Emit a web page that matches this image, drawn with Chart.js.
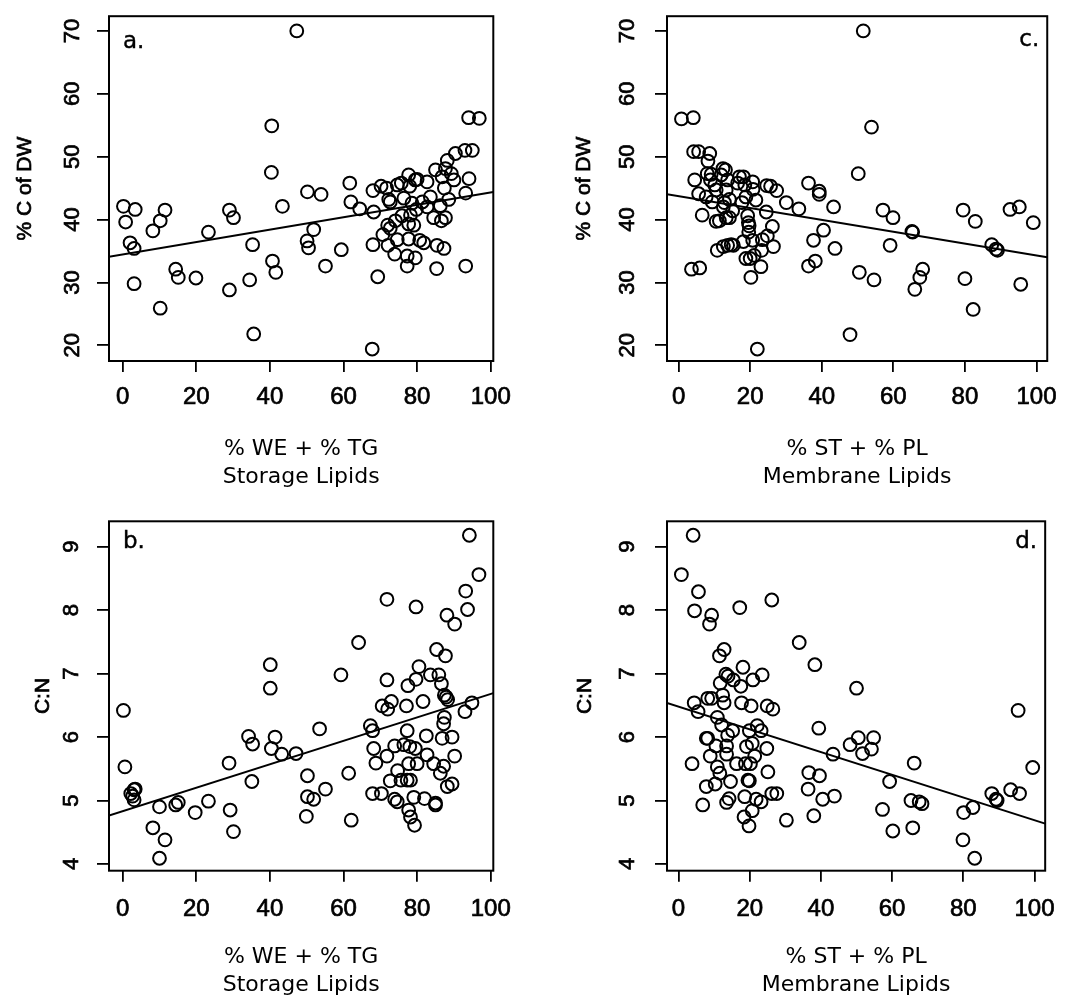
<!DOCTYPE html>
<html>
<head>
<meta charset="utf-8">
<script src="https://cdn.jsdelivr.net/npm/chart.js@4.4.1/dist/chart.umd.min.js"></script>
<style>
  html, body { margin: 0; padding: 0; background: #fff; }
  #page { position: relative; width: 1068px; height: 1000px; }
  .panel { position: absolute; width: 534px; height: 500px; }
</style>
</head>
<body>
<div id="page">
  <div class="panel" style="left:0;top:0"><canvas id="chartA" width="534" height="500"></canvas></div>
  <div class="panel" style="left:534px;top:0"><canvas id="chartC" width="534" height="500"></canvas></div>
  <div class="panel" style="left:0;top:500px"><canvas id="chartB" width="534" height="500"></canvas></div>
  <div class="panel" style="left:534px;top:500px"><canvas id="chartD" width="534" height="500"></canvas></div>
</div>
<script>
// tick labels
const xTicks = [0, 20, 40, 60, 80, 100];
const carbonTicks = [20, 30, 40, 50, 60, 70];
const cnTicks = [4, 5, 6, 7, 8, 9];

// a. storage lipids vs % C of DW
const storageA = [0.2,0.8,2.0,3.1,3.4,3.1,8.2,10.2,11.5,10.2,
  14.4,15.1,19.9,23.3,29.0,30.1,29.0,34.5,35.3,35.6,
  40.5,40.4,40.7,41.6,43.4,47.3,50.2,50.1,50.5,51.9,
  53.9,55.1,59.4,61.7,62.0,64.4,67.8,68.0,68.2,68.0,
  69.3,70.2,70.7,71.7,72.3,72.7,72.0,72.7,72.1,73.9,
  74.6,74.1,74.6,75.7,76.4,75.9,77.3,77.3,77.7,78.0,
  77.7,78.2,77.7,78.6,79.5,80.0,79.5,79.8,79.1,80.7,
  81.8,81.4,82.7,82.7,83.6,84.5,85.0,85.3,85.4,86.3,
  86.6,86.8,87.3,87.7,87.4,87.7,88.2,88.6,89.3,90.0,
  90.4,93.2,93.2,93.0,95.0,94.1,94.0,96.9];
const carbonA = [42.1,39.6,36.3,35.4,41.6,29.8,38.2,39.8,41.5,25.9,
  32.1,30.8,30.7,38.0,41.5,40.3,28.8,30.4,36.0,21.8,
  54.9,47.5,33.4,31.6,42.1,70.0,44.4,36.6,35.5,38.4,
  44.0,32.6,35.2,45.8,42.8,41.7,19.4,44.6,41.2,36.0,
  30.9,45.3,37.6,45.0,43.2,42.8,39.1,38.6,35.9,34.5,
  36.8,39.8,45.5,45.8,43.4,40.6,34.2,32.6,47.1,45.3,
  36.9,40.7,39.3,42.6,46.3,46.4,33.9,41.6,39.1,36.7,
  36.3,42.8,42.0,46.0,43.6,40.3,47.9,32.2,35.9,42.2,
  39.8,46.8,35.4,48.1,45.0,40.3,49.4,43.2,47.3,46.3,
  50.5,44.2,32.6,51.0,51.0,46.5,56.2,56.1];

// b. storage lipids vs C:N
const storageB = [0.2,0.6,2.2,3.1,2.7,3.1,3.4,8.2,10.0,10.0,
  11.5,14.4,15.1,19.7,23.3,28.9,29.2,30.1,34.2,35.3,
  35.1,40.1,40.1,41.4,40.4,43.2,47.1,50.2,50.2,51.9,
  49.9,53.5,55.1,59.3,61.4,62.1,64.1,67.3,67.9,68.2,
  68.8,67.9,70.3,70.5,72.0,73.0,71.8,71.8,71.8,72.7,
  73.9,74.7,73.9,74.6,75.6,76.4,77.1,77.5,77.3,77.3,
  78.0,77.7,78.2,77.7,78.2,79.3,79.5,80.0,79.1,79.7,
  79.7,80.5,81.6,82.0,82.5,82.7,83.6,84.5,85.0,85.0,
  85.3,85.9,86.6,86.3,86.8,87.2,87.4,87.9,88.3,87.4,
  87.2,87.7,88.2,88.1,89.5,89.5,90.2,90.2,93.2,93.7,
  94.2,93.0,94.9,96.8];
const cnB = [6.42,5.53,5.11,5.17,5.07,5.01,5.18,4.57,4.90,4.09,
  4.38,4.93,4.97,4.81,4.99,5.59,4.85,4.51,6.01,5.89,
  5.30,7.14,6.77,6.00,5.82,5.73,5.74,5.39,5.06,5.02,
  4.75,6.13,5.18,6.98,5.43,4.69,7.49,6.18,6.10,5.82,
  5.59,5.11,5.11,6.49,6.44,6.56,8.17,6.90,5.70,5.31,
  5.86,5.47,5.02,4.98,5.32,5.88,6.49,6.81,6.10,5.32,
  5.85,5.58,5.32,4.85,4.74,4.61,5.82,5.58,5.05,8.05,
  6.91,7.11,6.56,5.03,6.02,5.72,6.98,5.58,4.96,4.93,
  7.38,6.98,6.84,5.43,5.98,5.54,6.66,6.63,6.59,6.31,
  6.21,7.28,5.22,7.92,5.26,6.00,5.70,7.78,8.30,8.01,
  9.18,6.40,6.54,8.56];

// c. membrane lipids vs % C of DW
const membraneC = [0.8,4.1,4.2,5.6,4.5,3.6,5.9,5.6,6.6,7.7,
  8.7,8.2,8.0,9.1,8.9,9.4,10.1,10.5,10.5,10.8,
  11.4,11.9,12.4,13.1,12.8,12.5,13.3,13.3,13.7,14.2,
  12.5,13.7,14.7,15.3,14.2,15.1,16.5,17.0,17.7,18.1,
  18.5,18.8,19.3,19.5,19.7,19.6,18.1,18.8,20.0,20.2,
  20.7,20.8,21.6,21.1,20.7,22.0,23.0,23.2,23.4,24.6,
  24.5,24.8,25.7,26.2,26.5,27.4,30.1,33.6,36.3,36.3,
  37.7,38.2,39.3,39.3,40.5,43.3,43.7,47.9,50.2,50.5,
  51.6,53.9,54.6,57.1,59.9,59.1,65.2,65.4,66.0,67.4,
  68.2,79.5,80.0,82.9,82.3,87.5,88.7,89.1,92.6,95.2,
  95.6,99.1];
const carbonC = [56.0,56.2,50.8,50.8,46.3,32.1,32.3,44.1,40.7,43.6,
  50.5,49.3,47.3,47.2,46.3,42.8,45.5,44.7,39.7,35.1,
  39.8,47.1,48.1,47.9,42.7,42.0,44.7,40.3,46.3,43.2,
  35.7,35.9,36.0,35.9,40.3,41.4,45.8,46.8,42.7,46.8,
  45.5,43.6,40.6,39.5,39.0,38.0,36.5,33.8,33.8,30.8,
  46.0,44.8,43.1,34.3,36.7,19.4,32.5,35.1,36.8,45.4,
  41.2,37.4,45.3,38.9,35.7,44.6,42.7,41.7,45.8,32.6,
  36.7,33.4,44.5,44.0,38.3,42.0,35.4,21.7,47.3,31.6,
  70.0,54.7,30.4,41.5,40.3,35.9,38.1,38.0,28.9,30.8,
  32.1,41.5,30.6,39.7,25.7,36.0,35.3,35.1,41.6,42.0,
  29.7,39.5];

// d. membrane lipids vs C:N
const membraneD = [0.8,4.1,5.6,4.5,9.3,8.7,17.2,26.2,12.8,11.5,
  13.3,13.9,11.7,12.4,12.8,15.4,18.1,17.5,20.9,23.5,
  8.2,9.3,4.4,5.5,17.7,20.4,24.9,26.5,10.9,12.1,
  15.2,13.8,19.9,22.1,23.2,7.8,8.2,10.5,13.5,19.1,
  20.7,24.8,3.8,8.9,13.5,10.9,16.3,18.8,20.2,21.4,
  11.6,25.1,14.6,19.5,19.9,7.8,10.3,6.8,13.5,14.2,
  18.6,21.8,23.2,20.7,18.4,19.8,26.2,27.6,30.3,33.9,
  38.3,36.6,39.6,36.4,38.0,40.5,43.8,39.4,43.4,50.0,
  48.2,50.5,51.7,54.2,54.8,59.3,57.3,60.2,66.2,65.3,
  67.6,68.4,65.8,80.1,82.7,79.9,83.2,88.0,89.2,89.5,
  93.3,95.8,95.4,99.5];
const cnD = [8.56,9.18,8.29,7.99,7.92,7.78,8.04,8.16,7.38,7.28,
  6.99,6.96,6.85,6.66,6.54,6.90,7.10,6.80,6.90,6.98,
  6.61,6.61,6.54,6.40,6.54,6.49,6.49,6.44,6.31,6.19,
  6.10,6.03,6.10,6.18,6.10,5.98,5.98,5.86,5.86,5.85,
  5.90,5.82,5.58,5.70,5.73,5.53,5.58,5.58,5.58,5.70,
  5.43,5.45,5.30,5.32,5.31,5.22,5.26,4.93,4.97,5.03,
  5.06,5.02,4.98,4.84,4.74,4.60,5.11,5.11,4.69,7.49,
  7.14,5.44,5.39,5.18,4.76,5.02,5.07,6.14,5.73,6.77,
  5.88,5.99,5.74,5.81,5.99,5.30,4.86,4.52,5.59,5.00,
  4.98,4.95,4.57,4.81,4.89,4.38,4.09,5.11,5.02,5.00,
  5.17,5.11,6.42,5.52];

// fitted lines: [intercept, slope]
const fitA = [34.46, 0.0985];
const fitB = [4.83, 0.0185];
const fitC = [43.7, -0.0943];
const fitD = [6.48, -0.0179];

// draws the box, the rotated y tick labels, the y title and the panel letter
const framePlugin = {
  id: 'frame',
  afterDraw(chart) {
    const o = chart.options.plugins.frame;
    const ctx = chart.ctx;
    const area = chart.chartArea;
    const ys = chart.scales.y;
    ctx.save();
    ctx.strokeStyle = '#000';
    ctx.lineWidth = 2;
    ctx.strokeRect(area.left, area.top, area.right - area.left, area.bottom - area.top);

    ctx.fillStyle = '#000';
    ctx.lineWidth = 0.7;
    ctx.font = '22px "Liberation Sans", Arial, sans-serif';
    ctx.textAlign = 'center';
    ctx.textBaseline = 'middle';
    ys.ticks.forEach(t => {
      const y = ys.getPixelForValue(t.value);
      ctx.save();
      ctx.translate(area.left - o.labelGap, y);
      ctx.rotate(-Math.PI / 2);
      ctx.fillText(String(t.value), 0, 0);
      ctx.strokeText(String(t.value), 0, 0);
      ctx.restore();
    });

    // y axis title, read bottom to top
    ctx.font = '21px "Liberation Sans", Arial, sans-serif';
    ctx.save();
    ctx.translate(o.yTitleX, (area.top + area.bottom) / 2);
    ctx.rotate(-Math.PI / 2);
    ctx.fillText(o.yTitle, 0, 0);
    ctx.strokeText(o.yTitle, 0, 0);
    ctx.restore();

    ctx.font = '23px "DejaVu Sans", sans-serif';
    ctx.textBaseline = 'alphabetic';
    ctx.lineWidth = 0.4;
    if (o.letterSide === 'left') {
      ctx.textAlign = 'left';
      ctx.fillText(o.letter, area.left + 14, area.top + o.letterDrop);
      ctx.strokeText(o.letter, area.left + 14, area.top + o.letterDrop);
    } else {
      ctx.textAlign = 'right';
      ctx.fillText(o.letter, area.right - 8, area.top + o.letterDrop);
      ctx.strokeText(o.letter, area.right - 8, area.top + o.letterDrop);
    }
    ctx.restore();
  }
};

function makePanel(p) {
  const points = p.xs.map((x, i) => ({ x: x, y: p.ys[i] }));
  const fitLine = [p.xMin, p.xMax].map(x => ({ x: x, y: p.fit[0] + p.fit[1] * x }));
  new Chart(document.getElementById(p.id), {
    type: 'scatter',
    data: {
      datasets: [
        {
          data: points,
          pointStyle: 'circle',
          pointRadius: 6.4,
          borderColor: '#000',
          backgroundColor: 'rgba(0,0,0,0)',
          borderWidth: 2
        },
        {
          type: 'line',
          data: fitLine,
          borderColor: '#000',
          borderWidth: 2,
          pointRadius: 0,
          fill: false
        }
      ]
    },
    options: {
      responsive: false,
      animation: false,
      devicePixelRatio: 1,
      layout: { padding: { top: p.padTop, right: p.padRight, left: 0, bottom: 0 } },
      plugins: {
        legend: { display: false },
        tooltip: { enabled: false },
        frame: {
          letter: p.letter, letterSide: p.letterSide, letterDrop: p.letterDrop,
          labelGap: p.labelGap, yTitle: p.yTitle, yTitleX: p.yTitleX
        }
      },
      scales: {
        x: {
          type: 'linear',
          min: p.xMin,
          max: p.xMax,
          afterBuildTicks: axis => { axis.ticks = xTicks.map(v => ({ value: v })); },
          afterFit: axis => { axis.height = p.xAxisHeight; },
          grid: { drawOnChartArea: false, drawTicks: true, tickLength: 11, color: '#000', lineWidth: 1.8 },
          border: { display: false },
          ticks: {
            color: '#000',
            font: { family: 'Liberation Sans', size: 24 },
            textStrokeColor: '#000',
            textStrokeWidth: 0.7,
            padding: p.xLabelPad,
            maxRotation: 0,
            autoSkip: false
          },
          title: {
            display: true,
            text: p.xTitle,
            color: '#000',
            font: { family: 'DejaVu Sans', size: 22, lineHeight: 28 / 22 },
            padding: { top: 0, bottom: p.xTitlePad }
          }
        },
        y: {
          type: 'linear',
          min: p.yMin,
          max: p.yMax,
          afterBuildTicks: axis => { axis.ticks = p.yTicks.map(v => ({ value: v })); },
          afterFit: axis => { axis.width = p.yAxisWidth; },
          grid: { drawOnChartArea: false, drawTicks: true, tickLength: 12, color: '#000', lineWidth: 1.8 },
          border: { display: false },
          ticks: { color: 'rgba(0,0,0,0)', font: { size: 22 } }
        }
      }
    },
    plugins: [framePlugin]
  });
}

makePanel({
  id: 'chartA', xs: storageA, ys: carbonA, fit: fitA,
  xMin: -3.72, xMax: 100.7, yMin: 17.5, yMax: 72.34, yTicks: carbonTicks,
  padTop: 10, padRight: 40.7, yAxisWidth: 109, xAxisHeight: 139,
  xLabelPad: 11, xTitlePad: 9, yTitleX: 25, labelGap: 36,
  xTitle: ['% WE + % TG', 'Storage Lipids'], yTitle: '% C of DW',
  letter: 'a.', letterSide: 'left', letterDrop: 32
});
makePanel({
  id: 'chartB', xs: storageB, ys: cnB, fit: fitB,
  xMin: -3.72, xMax: 100.7, yMin: 3.894, yMax: 9.40, yTicks: cnTicks,
  padTop: 21.3, padRight: 40.7, yAxisWidth: 109, xAxisHeight: 129.3,
  xLabelPad: 13, xTitlePad: 1, yTitleX: 43, labelGap: 37,
  xTitle: ['% WE + % TG', 'Storage Lipids'], yTitle: 'C:N',
  letter: 'b.', letterSide: 'left', letterDrop: 27
});
makePanel({
  id: 'chartC', xs: membraneC, ys: carbonC, fit: fitC,
  xMin: -3.24, xMax: 103.0, yMin: 17.5, yMax: 72.34, yTicks: carbonTicks,
  padTop: 10, padRight: 17, yAxisWidth: 133, xAxisHeight: 139,
  xLabelPad: 11, xTitlePad: 9, yTitleX: 50, labelGap: 39.5,
  xTitle: ['% ST + % PL', 'Membrane Lipids'], yTitle: '% C of DW',
  letter: 'c.', letterSide: 'right', letterDrop: 30
});
makePanel({
  id: 'chartD', xs: membraneD, ys: cnD, fit: fitD,
  xMin: -3.24, xMax: 103.0, yMin: 3.894, yMax: 9.40, yTicks: cnTicks,
  padTop: 21.3, padRight: 17, yAxisWidth: 133, xAxisHeight: 129.3,
  xLabelPad: 13, xTitlePad: 1, yTitleX: 51, labelGap: 39.5,
  xTitle: ['% ST + % PL', 'Membrane Lipids'], yTitle: 'C:N',
  letter: 'd.', letterSide: 'right', letterDrop: 27
});
</script>
</body>
</html>
